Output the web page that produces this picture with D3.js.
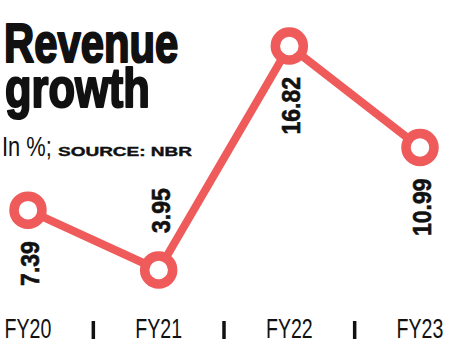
<!DOCTYPE html>
<html>
<head>
<meta charset="utf-8">
<script src="https://cdn.jsdelivr.net/npm/d3@7"></script>
<style>
  html, body { margin: 0; padding: 0; background: #fff; }
  svg { display: block; }
</style>
</head>
<body>
<div id="chart"></div>
<script>
// 数据
const years = ["FY20", "FY21", "FY22", "FY23"];
const growth = [7.39, 3.95, 16.82, 10.99];
// 标签位置：below = 点下方, above = 点上方
const labelSide = ["below", "above", "below", "below"];

const width = 449;
const height = 351;
const red = "#ef5a5a";

const svg = d3.select("#chart")
    .append("svg")
    .attr("width", width)
    .attr("height", height);

// 把文字压窄 / 拉宽
function squeeze(sel, k) {
    sel.each(function() {
        const len = this.getComputedTextLength();
        d3.select(this)
            .attr("textLength", len * k)
            .attr("lengthAdjust", "spacingAndGlyphs");
    });
}

// 标题（加描边让字更粗）
svg.append("text")
    .attr("x", 4).attr("y", 62)
    .attr("font-family", "Liberation Sans, Arial, sans-serif")
    .attr("font-weight", "bold")
    .attr("font-size", 55)
    .attr("fill", "#111")
    .attr("stroke", "#111")
    .attr("stroke-width", 2.2)
    .attr("stroke-linejoin", "round")
    .text("Revenue")
    .call(squeeze, 0.76);

svg.append("text")
    .attr("x", 5).attr("y", 107)
    .attr("font-family", "Liberation Sans, Arial, sans-serif")
    .attr("font-weight", "bold")
    .attr("font-size", 55)
    .attr("fill", "#111")
    .attr("stroke", "#111")
    .attr("stroke-width", 2.2)
    .attr("stroke-linejoin", "round")
    .text("growth")
    .call(squeeze, 0.79);

svg.append("text")
    .attr("x", 2).attr("y", 156)
    .attr("font-family", "Liberation Sans, Arial, sans-serif")
    .attr("font-size", 28)
    .attr("fill", "#111")
    .text("In %;")
    .call(squeeze, 0.78);

svg.append("text")
    .attr("x", 58).attr("y", 156)
    .attr("font-family", "Liberation Sans, Arial, sans-serif")
    .attr("font-weight", "bold")
    .attr("font-size", 13)
    .attr("fill", "#111")
    .attr("stroke", "#111")
    .attr("stroke-width", 0.4)
    .text("SOURCE: NBR")
    .attr("textLength", 134)
    .attr("lengthAdjust", "spacingAndGlyphs");

// 比例尺
const x = d3.scalePoint()
    .domain(years)
    .range([28, 420]);

const y = d3.scaleLinear()
    .domain([d3.min(growth), d3.max(growth)])
    .range([270, 46]);

const points = years.map((d, i) => ({ year: d, value: growth[i], side: labelSide[i] }));

// 折线
svg.append("path")
    .datum(points)
    .attr("fill", "none")
    .attr("stroke", red)
    .attr("stroke-width", 8)
    .attr("stroke-linejoin", "round")
    .attr("d", d3.line().x(d => x(d.year)).y(d => y(d.value)));

// 圆点
svg.selectAll("circle")
    .data(points)
    .join("circle")
    .attr("cx", d => x(d.year))
    .attr("cy", d => y(d.value))
    .attr("r", 14)
    .attr("fill", "#fff")
    .attr("stroke", red)
    .attr("stroke-width", 9.5);

// 数值标签（竖排）
svg.selectAll(".val")
    .data(points)
    .join("text")
    .attr("class", "val")
    .attr("transform", d => {
        const ty = d.side === "below" ? y(d.value) + 31 : y(d.value) - 37;
        return `translate(${x(d.year) + 11},${ty}) rotate(-90)`;
    })
    .attr("text-anchor", d => d.side === "below" ? "end" : "start")
    .attr("font-family", "Liberation Sans, Arial, sans-serif")
    .attr("font-weight", "bold")
    .attr("font-size", 25)
    .attr("fill", "#111")
    .attr("stroke", "#111")
    .attr("stroke-width", 0.6)
    .text(d => d.value.toFixed(2))
    .call(squeeze, 0.92);

// x 轴标签（横向压窄）
svg.selectAll(".yr")
    .data(years)
    .join("text")
    .attr("class", "yr")
    .attr("transform", d => `translate(${x(d)},338) scale(0.7,1)`)
    .attr("text-anchor", "middle")
    .attr("font-family", "Liberation Sans, Arial, sans-serif")
    .attr("font-size", 28)
    .attr("fill", "#111")
    .text(d => d);

// 分隔线
const seps = d3.pairs(years).map(([a, b]) => (x(a) + x(b)) / 2);
svg.selectAll(".sep")
    .data(seps)
    .join("line")
    .attr("class", "sep")
    .attr("x1", d => d).attr("x2", d => d)
    .attr("y1", 321).attr("y2", 339)
    .attr("stroke", "#111")
    .attr("stroke-width", 3.5);
</script>
</body>
</html>
